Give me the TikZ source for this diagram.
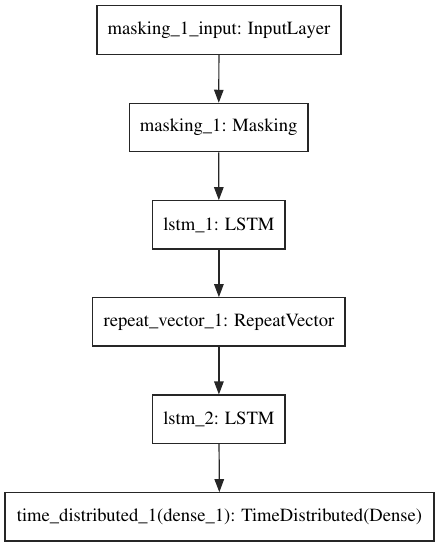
\documentclass[tikz,border=0pt]{standalone}
\usepackage[T1]{fontenc}
\usepackage{mathptmx}
\usetikzlibrary{arrows.meta}
\begin{document}
\begin{tikzpicture}[x=1pt,y=-1pt,
  layer/.style={draw=black!85, line width=1.2pt, inner sep=0pt, minimum height=48.3pt, font=\rmfamily\fontsize{18.6}{21}\selectfont},
  conn/.style={draw=black!85, line width=1.2pt, -{Triangle[length=13pt,width=9.5pt]}}]
\useasboundingbox (0,0) rectangle (438,547);
\node[layer, minimum width=244pt] (a) at (219,30) {masking\_1\_input: InputLayer};
\node[layer, minimum width=178.7pt] (b) at (218.7,127.5) {masking\_1: Masking};
\node[layer, minimum width=132.3pt] (c) at (218.9,224.9) {lstm\_1: LSTM};
\node[layer, minimum width=252.3pt] (d) at (218.9,321.9) {repeat\_vector\_1: RepeatVector};
\node[layer, minimum width=132.3pt] (e) at (218.9,419.2) {lstm\_2: LSTM};
\node[layer, minimum width=429pt] (f) at (219.5,516.9) {time\_distributed\_1(dense\_1): TimeDistributed(Dense)};
\draw[conn] (a) -- (b);
\draw[conn] (b) -- (c);
\draw[conn] (c) -- (d);
\draw[conn] (d) -- (e);
\draw[conn] (e) -- (f);
\end{tikzpicture}
\end{document}
